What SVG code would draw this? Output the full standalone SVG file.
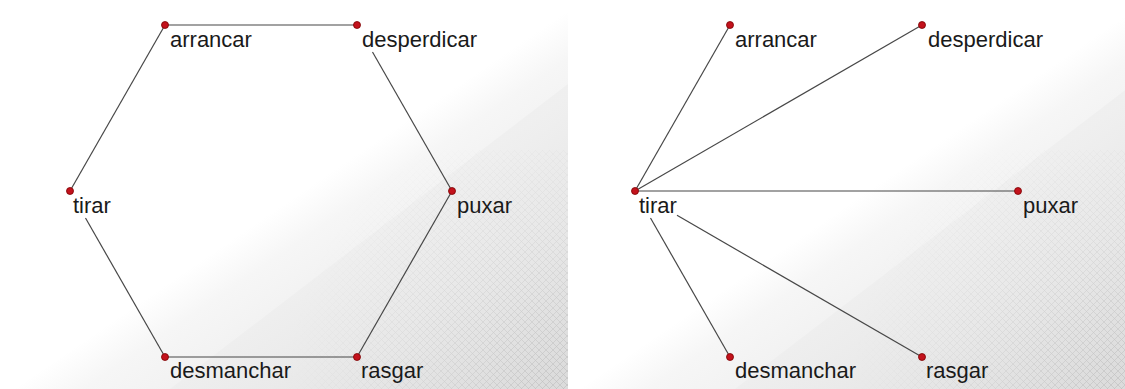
<svg xmlns="http://www.w3.org/2000/svg" width="1125" height="389" viewBox="0 0 1125 389">
<style>
.dot{fill:#c3121c;stroke:#7a0000;stroke-width:0.8}
.lbl{font-family:"Liberation Sans",Arial,sans-serif;font-size:22px;fill:#1a1a1a}
.edge{stroke:#474747;stroke-width:1.2;fill:none}
</style>
<defs>
<linearGradient id="gA" gradientUnits="userSpaceOnUse" x1="290" y1="200" x2="440" y2="420">
<stop offset="0" stop-color="#ffffff"/>
<stop offset="0.15" stop-color="#f6f6f6"/>
<stop offset="1" stop-color="#e3e3e3"/>
</linearGradient>
<linearGradient id="gB" gradientUnits="userSpaceOnUse" x1="370" y1="236" x2="500" y2="420">
<stop offset="0" stop-color="#eeeeee"/>
<stop offset="0.5" stop-color="#e6e6e6"/>
<stop offset="1" stop-color="#dadada"/>
</linearGradient>
<pattern id="hatch" patternUnits="userSpaceOnUse" width="7" height="7">
<path d="M0,0 L7,7 M7,0 L0,7" stroke="#8c8c8c" stroke-width="0.6"/>
</pattern>
<radialGradient id="rm" gradientUnits="userSpaceOnUse" cx="568" cy="389" r="280">
<stop offset="0" stop-color="#fff" stop-opacity="0.4"/>
<stop offset="1" stop-color="#fff" stop-opacity="0"/>
</radialGradient>
<mask id="mk" maskUnits="userSpaceOnUse" x="0" y="0" width="568" height="389">
<rect x="0" y="0" width="568" height="389" fill="url(#rm)"/>
</mask>
<clipPath id="cpL"><rect x="0" y="0" width="568" height="389"/></clipPath>
<clipPath id="cpR"><rect x="3" y="0" width="557" height="389"/></clipPath>
<g id="bg">
<rect x="0" y="0" width="568" height="389" fill="#ffffff"/>
<polygon points="15,389 568,8 568,389" fill="url(#gA)"/>
<polygon points="170,389 568,84 568,389" fill="url(#gB)" opacity="0.8"/>
<rect x="150" y="150" width="418" height="239" fill="url(#hatch)" mask="url(#mk)"/>
</g>
</defs>
<rect x="0" y="0" width="1125" height="389" fill="#ffffff"/>
<g id="background">
<g clip-path="url(#cpL)"><use href="#bg"/></g>
<g transform="translate(565,0)" clip-path="url(#cpR)"><use href="#bg"/></g>
</g>
<g id="connectors">
<path class="edge" d="M165,25 L357,25"/>
<path class="edge" d="M165,25 L70,191"/>
<path class="edge" d="M372.5,52 L452,191"/>
<path class="edge" d="M452,191 L357,357"/>
<path class="edge" d="M85.5,218 L165,357"/>
<path class="edge" d="M165,357 L357,357"/>
<path class="edge" d="M635,191 L730,25"/>
<path class="edge" d="M635,191 L922,25"/>
<path class="edge" d="M635,191 L1018,191"/>
<path class="edge" d="M650.5,218 L730,357"/>
<path class="edge" d="M677,215.3 L922,357"/>
</g>
<g id="L-arrancar"><circle class="dot" cx="165" cy="25" r="3.5"/><text class="lbl" x="170" y="47">arrancar</text></g>
<g id="L-desperdicar"><circle class="dot" cx="357" cy="25" r="3.5"/><text class="lbl" x="362" y="47">desperdicar</text></g>
<g id="L-tirar"><circle class="dot" cx="70" cy="191" r="3.5"/><text class="lbl" x="73" y="213">tirar</text></g>
<g id="L-puxar"><circle class="dot" cx="452" cy="191" r="3.5"/><text class="lbl" x="457" y="213">puxar</text></g>
<g id="L-desmanchar"><circle class="dot" cx="165" cy="357" r="3.5"/><text class="lbl" x="170" y="378">desmanchar</text></g>
<g id="L-rasgar"><circle class="dot" cx="357" cy="357" r="3.5"/><text class="lbl" x="361" y="378">rasgar</text></g>
<g id="R-arrancar"><circle class="dot" cx="730" cy="25" r="3.5"/><text class="lbl" x="735" y="47">arrancar</text></g>
<g id="R-desperdicar"><circle class="dot" cx="922" cy="25" r="3.5"/><text class="lbl" x="928" y="47">desperdicar</text></g>
<g id="R-tirar"><circle class="dot" cx="635" cy="191" r="3.5"/><text class="lbl" x="639" y="213">tirar</text></g>
<g id="R-puxar"><circle class="dot" cx="1018" cy="191" r="3.5"/><text class="lbl" x="1023" y="213">puxar</text></g>
<g id="R-desmanchar"><circle class="dot" cx="730" cy="357" r="3.5"/><text class="lbl" x="735" y="378">desmanchar</text></g>
<g id="R-rasgar"><circle class="dot" cx="922" cy="357" r="3.5"/><text class="lbl" x="926" y="378">rasgar</text></g>
</svg>
